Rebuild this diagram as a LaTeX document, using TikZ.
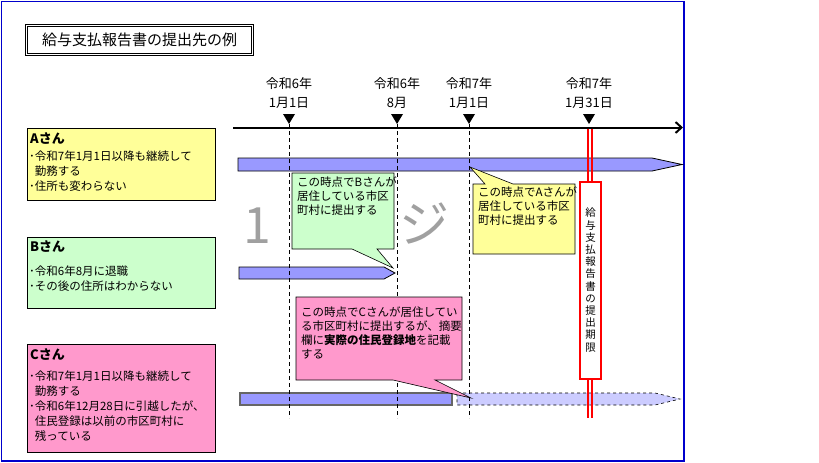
\documentclass[tikz,border=0pt]{standalone}
\usepackage{fontspec}
\setmainfont{Noto Sans CJK JP}
\usetikzlibrary{arrows.meta}

\definecolor{frameblue}{HTML}{0000CC}
\definecolor{notea}{HTML}{FFFF99}
\definecolor{noteb}{HTML}{CCFFCC}
\definecolor{notec}{HTML}{FF99CC}
\definecolor{barfill}{HTML}{9999FF}
\definecolor{barpale}{HTML}{CCCCFF}
\definecolor{markgray}{HTML}{A0A0A0}

\tikzset{
  personbox/.style={draw,line width=0.8pt},
  boxhead/.style={anchor=west,inner sep=0pt,font=\fontsize{13}{13}\selectfont\bfseries},
  boxbody/.style={anchor=north west,inner sep=0pt,align=left,font=\fontsize{11.5}{15}\selectfont},
  notebody/.style={anchor=north west,inner sep=0pt,align=left,font=\fontsize{11.5}{14}\selectfont},
  datelabel/.style={align=center,inner sep=0pt,font=\fontsize{13}{19}\selectfont},
  barshape/.style={draw,line width=0.8pt,fill=barfill},
  guide/.style={dash pattern=on 4pt off 3pt,line width=0.6pt},
  bigmark/.style={text=markgray,font=\fontsize{50}{50}\selectfont}
}

\begin{document}
\begin{tikzpicture}[x=1pt,y=-1pt]
\useasboundingbox (0,0) rectangle (819,463);

% outer frame
\draw[frameblue,line width=1.6pt] (1.5,1.5) rectangle (684,461);

% title
\draw[line width=0.7pt,double,double distance=1.6pt] (26.5,25.5) rectangle (252.5,54.5);
\node[font=\fontsize{15}{15}\selectfont] (title) at (139.5,40) {給与支払報告書の提出先の例};

% what is left of the page mark
\node[bigmark] (mark1) at (257,226) {1};
\node[bigmark] (mark2) at (424,224) {ジ};

% persons
\draw[personbox,fill=notea] (27,128) rectangle (215,200);
\node[boxhead] (ahead) at (30,139) {Aさん};
\node[boxbody] (abody) at (29,151) {･令和7年1月1日以降も継続して\\\hphantom{･}勤務する\\･住所も変わらない};

\draw[personbox,fill=noteb] (27,237) rectangle (215,308);
\node[boxhead] (bhead) at (30,247) {Bさん};
\node[boxbody] (bbody) at (29,266) {･令和6年8月に退職\\･その後の住所はわからない};

\draw[personbox,fill=notec] (27,344) rectangle (215,452);
\node[boxhead] (chead) at (30,355) {Cさん};
\node[boxbody] (cbody) at (29,371) {･令和7年1月1日以降も継続して\\\hphantom{･}勤務する\\･令和6年12月28日に引越したが、\\\hphantom{･}住民登録は以前の市区町村に\\\hphantom{･}残っている};

% bars
\draw[barshape] (238,158) -- (652,158) -- (682,164.5) -- (652,171) -- (238,171) -- cycle;
\draw[barshape] (239,267) -- (384,267) -- (395,273) -- (384,279) -- (239,279) -- cycle;
\draw[barshape,draw=black!60,line width=1.6pt] (240,393) rectangle (452,405);
\draw[dashed,line width=0.6pt,fill=barpale] (457,393) -- (655,393) -- (680,399) -- (655,405) -- (457,405) -- cycle;

% dates
\foreach \x/\dname/\ya/\md in {289/d1/令和6年/1月1日,397/d2/令和6年/8月,469/d3/令和7年/1月1日,589/d4/令和7年/1月31日} {
  \node[datelabel] (\dname) at (\x,93.5) {\ya\\\md};
  \coordinate (\dname top) at (\x,124);
  \coordinate (\dname end) at (\x,418);
  \fill (\x-6,114) -- (\x+6,114) -- (\dname top) -- cycle;
}
\draw[guide] (d1top) -- (d1end);
\draw[guide] (d2top) -- (d2end);
\draw[guide] (d3top) -- (d3end);

% time axis
\draw[line width=2pt,-{Straight Barb[length=6pt,width=11pt]}] (233,127.5) -- (683,127.5);

% notes
\draw[line width=0.6pt,fill=noteb] (292,173) -- (394,173) -- (394,249) -- (377,249) -- (393,268) -- (352,249) -- (292,249) -- cycle;
\node[notebody] (noteb) at (297,177) {この時点でBさんが\\居住している市区\\町村に提出する};

\draw[line width=0.6pt,fill=notea] (473,184) -- (485,184) -- (470,167) -- (513,184) -- (575,184) -- (575,254) -- (473,254) -- cycle;
\node[notebody] (notea) at (478,187) {この時点でAさんが\\居住している市区\\町村に提出する};

\draw[line width=0.6pt,fill=notec] (296,297) -- (462,297) -- (462,380) -- (435,380) -- (471,398) -- (393,380) -- (296,380) -- cycle;
\node[notebody] (notec) at (301,307) {この時点でCさんが居住してい\\る市区町村に提出するが、摘要\\欄に\textbf{実際の住民登録地}を記載\\する};

% deadline
\draw[red,line width=1.2pt] (588,128.5) -- (588,418);
\draw[red,line width=1.2pt] (592,128.5) -- (592,418);
\draw[red,line width=1.6pt,fill=white] (580,182) rectangle (601,379);
\node[align=center,inner sep=0pt,font=\fontsize{10.5}{12.2}\selectfont] (deadline) at (590.5,280) {給\\与\\支\\払\\報\\告\\書\\の\\提\\出\\期\\限};

\end{tikzpicture}
\end{document}
